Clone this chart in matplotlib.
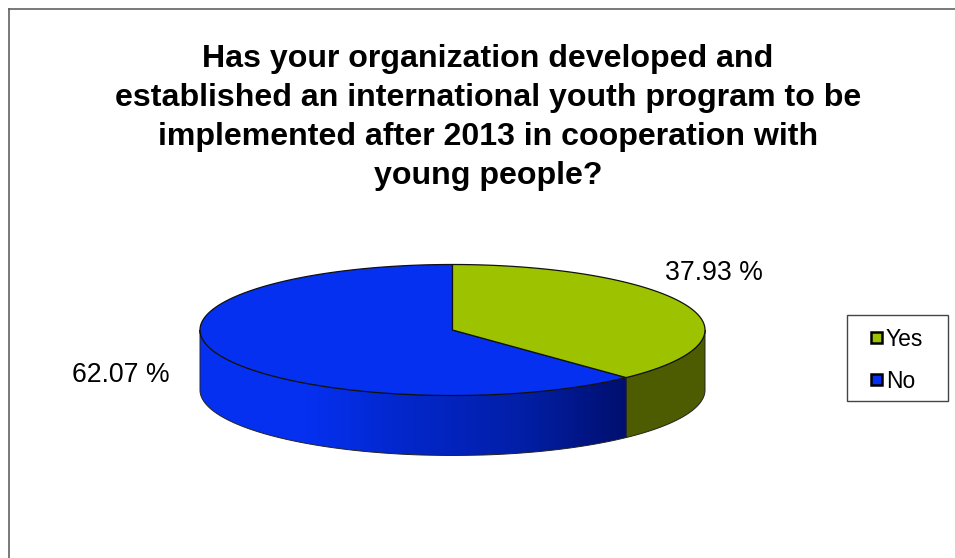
import matplotlib
matplotlib.use("Agg")
import matplotlib.pyplot as plt
import numpy as np
from matplotlib.patches import Polygon, Rectangle
from matplotlib.colors import LinearSegmentedColormap

labels = ["Yes", "No"]
values = [37.93, 62.07]
value_labels = ["37.93 %", "62.07 %"]
title_lines = [
    "Has your organization developed and",
    "established an international youth program to be",
    "implemented after 2013 in cooperation with",
    "young people?",
]

plt.rcParams["font.family"] = ["Liberation Sans", "DejaVu Sans"]

YES_TOP = "#9dc300"
YES_SIDE = "#4d5c00"
NO_TOP = "#0530f0"
NO_DARK = "#000f6e"

# pie geometry, in image pixels
cx, cy = 452.5, 330
rx, ry = 252.5, 65.5
depth = 60


def rim(a0, a1, n=200):
    a = np.radians(np.linspace(a0, a1, n))
    return np.column_stack([cx + rx * np.cos(a), cy + ry * np.sin(a)])


def main():
    fig = plt.figure(figsize=(9.55, 5.58), dpi=100)
    ax = fig.add_axes([0, 0, 1, 1])
    ax.set_xlim(0, 955)
    ax.set_ylim(558, 0)
    ax.axis("off")

    # frame only shows on top and left
    ax.plot([8.5, 8.5], [558, 8.5], color="#555555", lw=1.1, zorder=1)
    ax.plot([8.5, 955], [8.5, 8.5], color="#555555", lw=1.1, zorder=1)

    for i, line in enumerate(title_lines):
        ax.text(488, 59.5 + i * 38.8, line, ha="center", va="center",
                fontsize=23.1, fontweight="bold", color="black")

    # angles run clockwise from 12 o'clock, y axis points down
    split = -90 + values[0] / sum(values) * 360
    edge = rim(split, split)[0]

    # side walls
    yes_wall = rim(0, split)
    yes_wall = np.vstack([yes_wall, (yes_wall + [0, depth])[::-1]])
    ax.add_patch(Polygon(yes_wall, closed=True, fc=YES_SIDE, ec="#222222", lw=0.7, zorder=2))

    no_wall = rim(split, 180)
    no_wall = np.vstack([no_wall, (no_wall + [0, depth])[::-1]])
    no_patch = Polygon(no_wall, closed=True, fc="none", ec="none", zorder=2)
    ax.add_patch(no_patch)
    cmap = LinearSegmentedColormap.from_list("wall", [NO_TOP, NO_TOP, "#0326c8", "#021fa8", NO_DARK])
    grad = np.linspace(0, 1, 256).reshape(1, -1)
    im = ax.imshow(grad, cmap=cmap, extent=[cx - rx, edge[0], cy + ry + depth, cy - ry],
                   aspect="auto", zorder=2.1)
    im.set_clip_path(no_patch)
    ax.set_xlim(0, 955)
    ax.set_ylim(558, 0)
    ax.add_patch(Polygon(no_wall, closed=True, fc="none", ec="#222222", lw=0.7, zorder=2.2))

    # top faces
    yes_top = np.vstack([[cx, cy], rim(-90, split)])
    no_top = np.vstack([[cx, cy], rim(split, 270)])
    ax.add_patch(Polygon(no_top, closed=True, fc=NO_TOP, ec="#111111", lw=0.9, zorder=3))
    ax.add_patch(Polygon(yes_top, closed=True, fc=YES_TOP, ec="#111111", lw=0.9, zorder=3))

    ax.text(714, 273.5, value_labels[0], ha="center", va="center", fontsize=19.2, color="black")
    ax.text(121, 374.5, value_labels[1], ha="center", va="center", fontsize=19.2, color="black")

    # legend
    ax.add_patch(Rectangle((846.5, 314.5), 101, 86, fc="white", ec="#444444", lw=1, zorder=2))
    for name, col, y in zip(labels, [YES_TOP, NO_TOP], [337, 379]):
        ax.add_patch(Rectangle((870.5, y - 5.5), 11, 11, fc=col, ec="black", lw=1.8, zorder=3))
        ax.text(886, y + 2.5, name, ha="left", va="center", fontsize=16.5, color="black", zorder=3)

    fig.savefig("out.png", dpi=100, facecolor="white")


if __name__ == "__main__":
    main()
